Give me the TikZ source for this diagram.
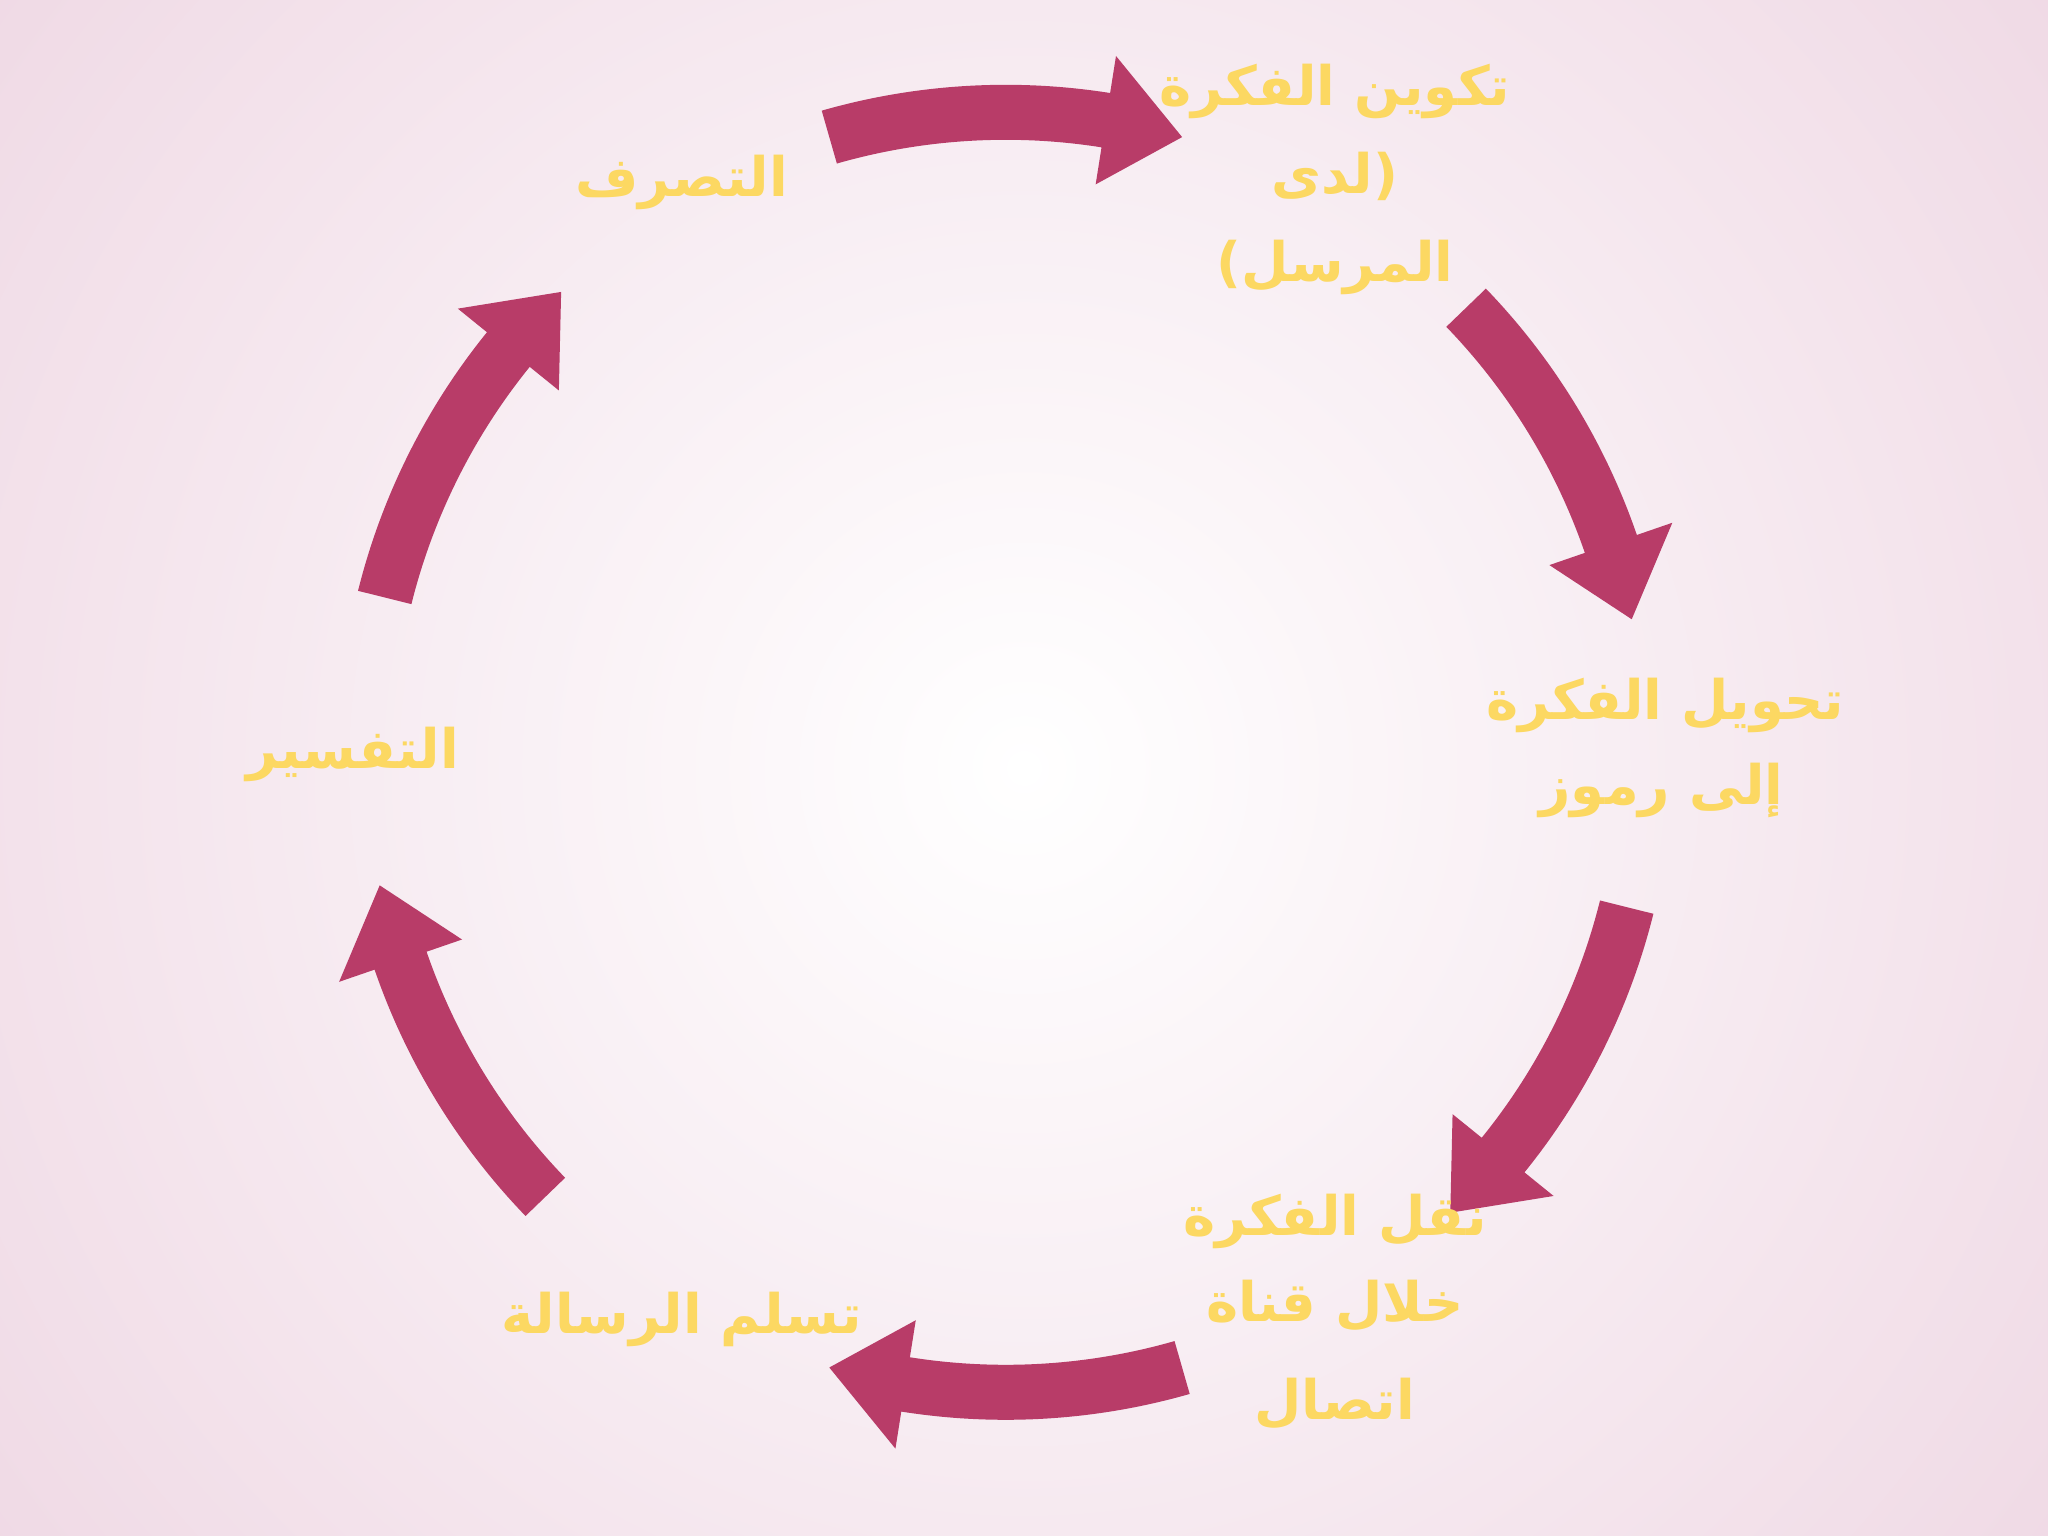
\documentclass[tikz,border=0pt]{standalone}
\usepackage{fontspec}
\newfontfamily\arabicfont[Script=Arabic]{DejaVu Sans}
\TeXXeTstate=1
\definecolor{arrc}{HTML}{B83C68}
\definecolor{txtc}{HTML}{FCD862}
\definecolor{bgp}{HTML}{EFD8E4}
\tikzset{
  arrbody/.style={fill=arrc},
  lbl/.style={text=txtc, font=\arabicfont\bfseries\fontsize{15.5}{18}\selectfont, inner sep=0pt}
}
\newcommand\curvarr[3]{%
  \fill[arrbody] ([shift={(#1:6.675cm)}]c) arc[start angle=#1,end angle=#2,radius=6.675cm]
   -- ([shift={(#2:7.05cm)}]c) -- ([shift={(#3:6.4cm)}]c) -- ([shift={(#2:5.75cm)}]c)
   -- ([shift={(#2:6.125cm)}]c) arc[start angle=#2,end angle=#1,radius=6.125cm] -- cycle;}
\begin{document}
\begin{tikzpicture}[x=0.013061cm,y=0.013061cm]
\useasboundingbox (0,0) rectangle (1568,1176);
\shade[inner color=white, outer color=bgp] (-250,-450) rectangle (1818,1626);
\coordinate (c) at (770,600);
\curvarr{106}{81}{74}
\curvarr{44}{19}{12}
\curvarr{-14}{-39}{-46}
\curvarr{-74}{-99}{-106}
\curvarr{-136}{-161}{-168}
\curvarr{166}{141}{134}
\node[lbl] (a1) at (1022,1106) {\beginR تكوين الفكرة\endR};
\node[lbl] (a2) at (1022,1041) {\beginR (لدى\endR};
\node[lbl] (a3) at (1022,971) {\beginR المرسل)\endR};
\node[lbl] (b1) at (1275,636) {\beginR تحويل الفكرة\endR};
\node[lbl] (b2) at (1272,571) {\beginR إلى رموز\endR};
\node[lbl] (c1) at (1022,241) {\beginR نقل الفكرة\endR};
\node[lbl] (c2) at (1022,176) {\beginR خلال قناة\endR};
\node[lbl] (c3) at (1022,101) {\beginR اتصال\endR};
\node[lbl] (d1) at (522,166) {\beginR تسلم الرسالة\endR};
\node[lbl] (e1) at (270,598) {\beginR التفسير\endR};
\node[lbl] (f1) at (522,1036) {\beginR التصرف\endR};
\end{tikzpicture}
\end{document}
